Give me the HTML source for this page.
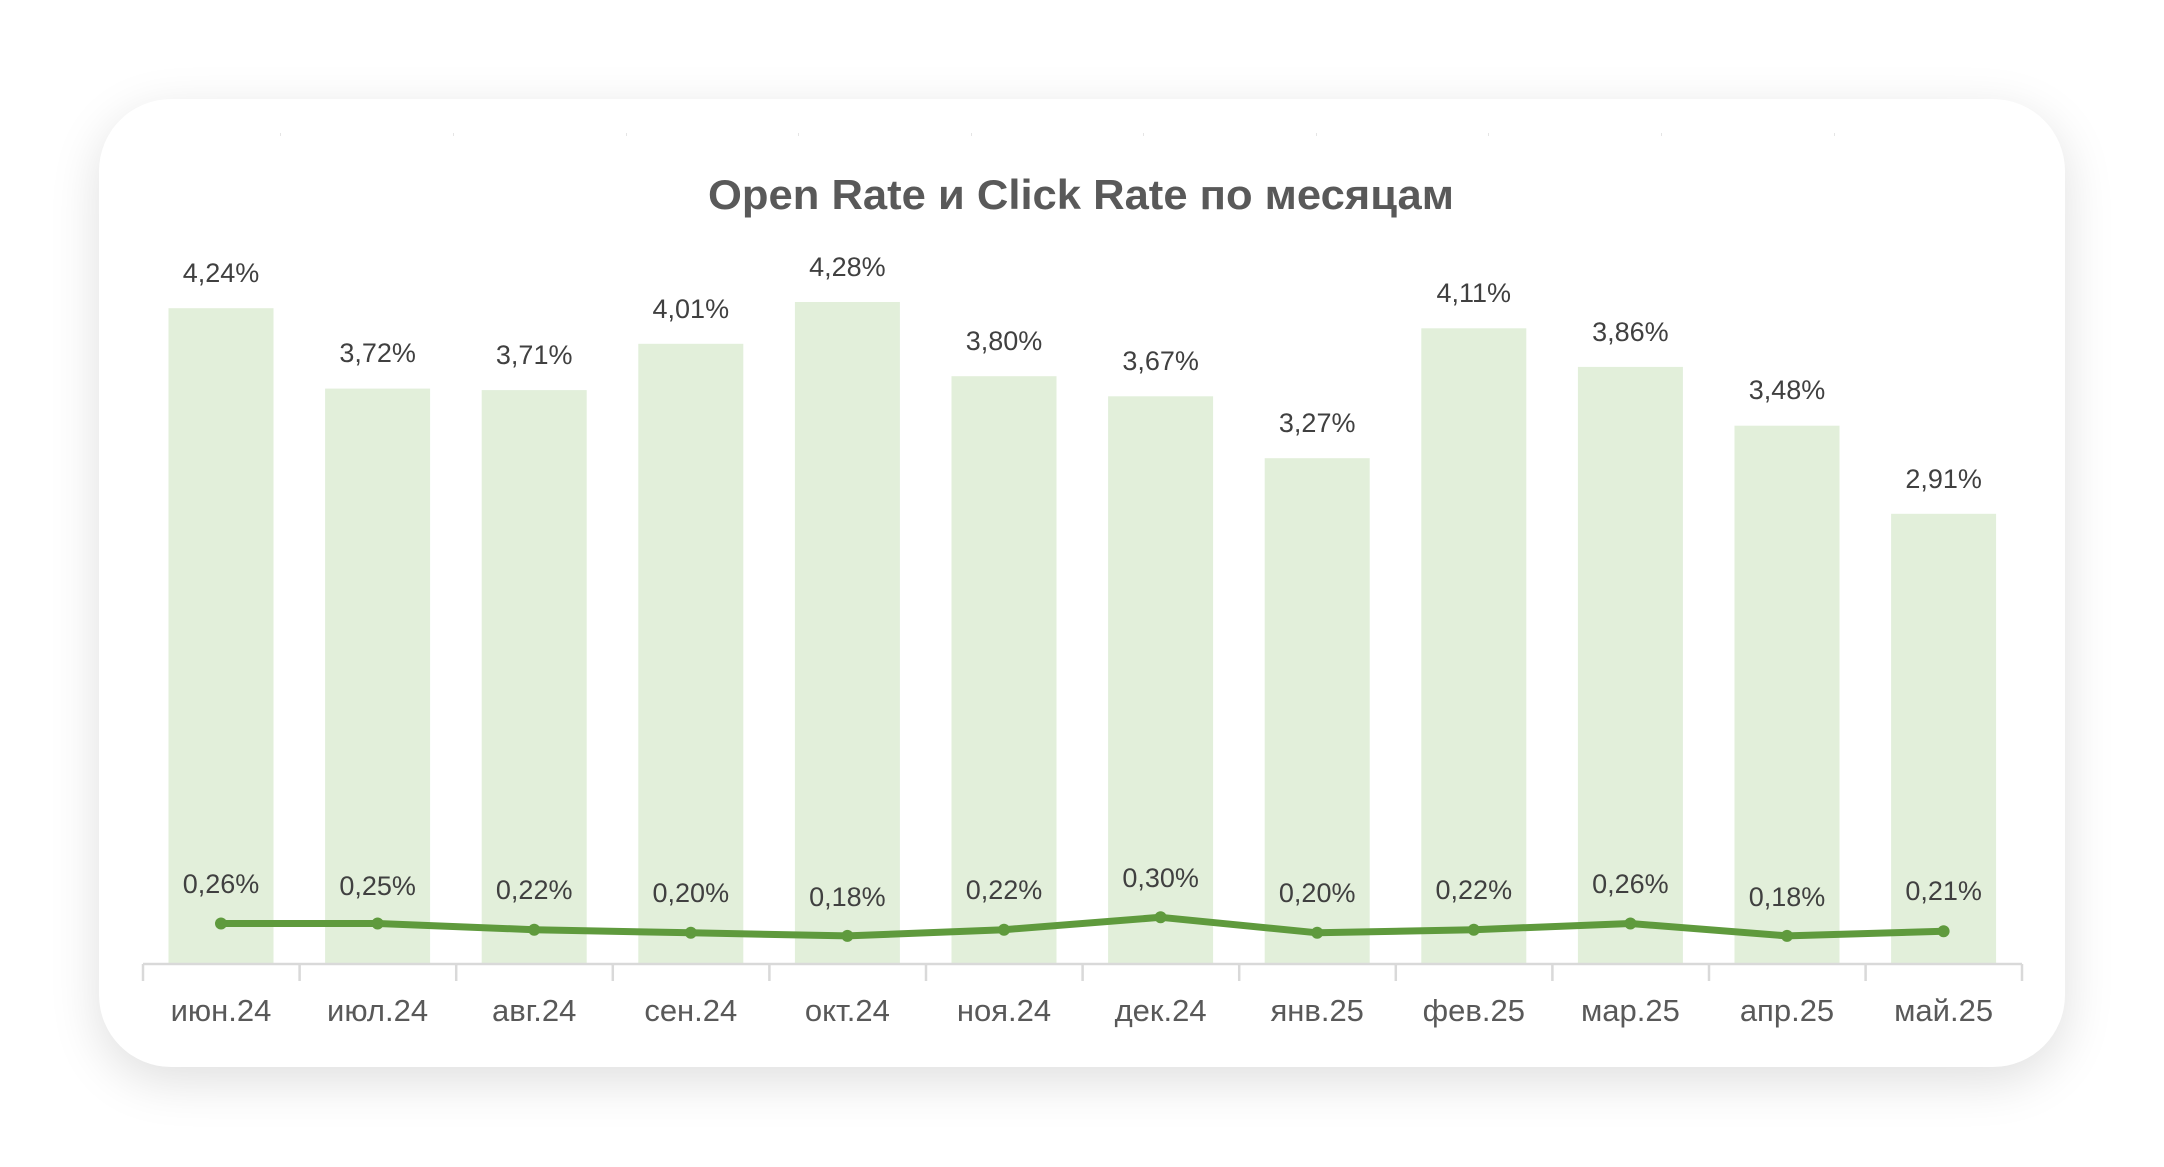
<!DOCTYPE html>
<html><head><meta charset="utf-8">
<style>
html,body{margin:0;padding:0;background:#fff;}
body{width:2164px;height:1167px;overflow:hidden;position:relative;}
.card{position:absolute;left:99px;top:99px;width:1966px;height:968px;background:#fff;border-radius:72px;box-shadow:0 14px 50px rgba(0,0,0,0.13);}
svg{position:absolute;left:0;top:0;}
text{font-family:"Liberation Sans Narrow","Liberation Sans",sans-serif;}
</style></head><body>
<div class="card"></div>
<svg width="2164" height="1167" viewBox="0 0 2164 1167">
<g fill="#e5e5e5">
<rect x="280" y="133" width="1" height="3"/><rect x="453" y="133" width="1" height="3"/><rect x="626" y="133" width="1" height="3"/><rect x="798" y="133" width="1" height="3"/><rect x="971" y="133" width="1" height="3"/><rect x="1143" y="133" width="1" height="3"/><rect x="1316" y="133" width="1" height="3"/><rect x="1488" y="133" width="1" height="3"/><rect x="1661" y="133" width="1" height="3"/><rect x="1834" y="133" width="1" height="3"/>
</g>
<text x="1081" y="209" text-anchor="middle" font-size="42" font-weight="bold" fill="#595959" style="font-family:'Liberation Sans',sans-serif" textLength="746" lengthAdjust="spacingAndGlyphs">Open Rate и Click Rate по месяцам</text>
<g fill="#e2efda">
<rect x="168.5" y="308.2" width="105" height="655.5"/>
<rect x="325.1" y="388.6" width="105" height="575.1"/>
<rect x="481.7" y="390.1" width="105" height="573.6"/>
<rect x="638.3" y="343.8" width="105" height="619.9"/>
<rect x="794.9" y="302" width="105" height="661.7"/>
<rect x="951.5" y="376.2" width="105" height="587.5"/>
<rect x="1108.1" y="396.3" width="105" height="567.4"/>
<rect x="1264.7" y="458.2" width="105" height="505.5"/>
<rect x="1421.3" y="328.3" width="105" height="635.4"/>
<rect x="1577.9" y="366.9" width="105" height="596.8"/>
<rect x="1734.5" y="425.7" width="105" height="538"/>
<rect x="1891.1" y="513.8" width="105" height="449.9"/>
</g>
<g font-size="27" fill="#404040" text-anchor="middle">
<text x="221" y="282">4,24%</text>
<text x="377.6" y="362">3,72%</text>
<text x="534.2" y="364">3,71%</text>
<text x="690.8" y="318">4,01%</text>
<text x="847.4" y="276">4,28%</text>
<text x="1004" y="350">3,80%</text>
<text x="1160.6" y="370">3,67%</text>
<text x="1317.2" y="432">3,27%</text>
<text x="1473.8" y="302">4,11%</text>
<text x="1630.4" y="341">3,86%</text>
<text x="1787" y="399">3,48%</text>
<text x="1943.6" y="488">2,91%</text>
</g>
<g stroke="#d9d9d9" stroke-width="2.5" fill="none">
<line x1="143" y1="964" x2="2022" y2="964"/>
<line x1="143" y1="964" x2="143" y2="981"/><line x1="299.6" y1="964" x2="299.6" y2="981"/><line x1="456.2" y1="964" x2="456.2" y2="981"/><line x1="612.8" y1="964" x2="612.8" y2="981"/><line x1="769.4" y1="964" x2="769.4" y2="981"/><line x1="926" y1="964" x2="926" y2="981"/><line x1="1082.6" y1="964" x2="1082.6" y2="981"/><line x1="1239.2" y1="964" x2="1239.2" y2="981"/><line x1="1395.8" y1="964" x2="1395.8" y2="981"/><line x1="1552.4" y1="964" x2="1552.4" y2="981"/><line x1="1709" y1="964" x2="1709" y2="981"/><line x1="1865.6" y1="964" x2="1865.6" y2="981"/><line x1="2022" y1="964" x2="2022" y2="981"/>
</g>
<polyline fill="none" stroke="#5f9a3d" stroke-width="7" stroke-linejoin="round" points="221,923.5 377.6,923.5 534.2,929.7 690.8,932.8 847.4,935.9 1004,929.7 1160.6,917.3 1317.2,932.8 1473.8,929.7 1630.4,923.5 1787,935.9 1943.6,931.2"/>
<g fill="#5f9a3d">
<circle cx="221" cy="923.5" r="6"/><circle cx="377.6" cy="923.5" r="6"/><circle cx="534.2" cy="929.7" r="6"/><circle cx="690.8" cy="932.8" r="6"/><circle cx="847.4" cy="935.9" r="6"/><circle cx="1004" cy="929.7" r="6"/><circle cx="1160.6" cy="917.3" r="6"/><circle cx="1317.2" cy="932.8" r="6"/><circle cx="1473.8" cy="929.7" r="6"/><circle cx="1630.4" cy="923.5" r="6"/><circle cx="1787" cy="935.9" r="6"/><circle cx="1943.6" cy="931.2" r="6"/>
</g>
<g font-size="27" fill="#404040" text-anchor="middle">
<text x="221" y="893">0,26%</text>
<text x="377.6" y="895">0,25%</text>
<text x="534.2" y="899">0,22%</text>
<text x="690.8" y="902">0,20%</text>
<text x="847.4" y="906">0,18%</text>
<text x="1004" y="899">0,22%</text>
<text x="1160.6" y="887">0,30%</text>
<text x="1317.2" y="902">0,20%</text>
<text x="1473.8" y="899">0,22%</text>
<text x="1630.4" y="893">0,26%</text>
<text x="1787" y="906">0,18%</text>
<text x="1943.6" y="900">0,21%</text>
</g>
<g font-size="31" fill="#595959" text-anchor="middle">
<text x="221" y="1021">июн.24</text>
<text x="377.6" y="1021">июл.24</text>
<text x="534.2" y="1021">авг.24</text>
<text x="690.8" y="1021">сен.24</text>
<text x="847.4" y="1021">окт.24</text>
<text x="1004" y="1021">ноя.24</text>
<text x="1160.6" y="1021">дек.24</text>
<text x="1317.2" y="1021">янв.25</text>
<text x="1473.8" y="1021">фев.25</text>
<text x="1630.4" y="1021">мар.25</text>
<text x="1787" y="1021">апр.25</text>
<text x="1943.6" y="1021">май.25</text>
</g>
</svg>
</body></html>
